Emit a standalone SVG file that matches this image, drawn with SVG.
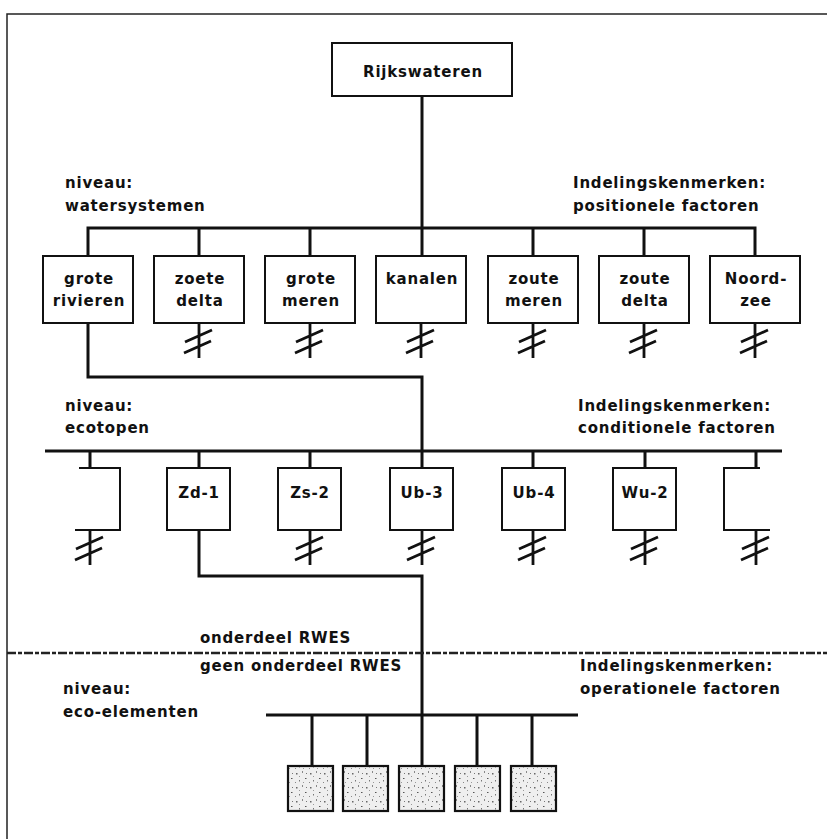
<svg xmlns="http://www.w3.org/2000/svg" xmlns:xlink="http://www.w3.org/1999/xlink" width="827" height="839" viewBox="0 0 827 839">
<style>
.t{font-family:"DejaVu Sans","Liberation Sans",sans-serif;font-weight:bold;font-size:15px;letter-spacing:0.8px;fill:#111}
.c{text-anchor:middle}
.box{fill:#fff;stroke:#111;stroke-width:2}
.ln{fill:none;stroke:#111;stroke-width:3}
.eco{fill:url(#stip);stroke:#111;stroke-width:2.2}
</style>
<defs>
<pattern id="stip" width="14" height="14" patternUnits="userSpaceOnUse">
<rect width="14" height="14" fill="#efefef"/>
<rect x="2" y="3" width="1.5" height="1.5" fill="#666"/>
<rect x="8" y="1" width="1" height="2" fill="#888"/>
<rect x="11" y="8" width="1.5" height="1" fill="#555"/>
<rect x="5" y="10" width="1" height="1.5" fill="#777"/>
<rect x="9" y="12" width="1" height="1" fill="#999"/>
<rect x="1" y="12" width="1" height="1" fill="#888"/>
<rect x="5" y="6" width="1" height="1" fill="#999"/>
<rect x="12" y="3" width="1" height="1" fill="#777"/>
</pattern>
<g id="brk">
<path d="M0,0 V35 M-14,19 L13,7 M-15,30 L12,18" fill="none" stroke="#111" stroke-width="2.8"/>
</g>
</defs>
<rect width="827" height="839" fill="#fff"/>
<path d="M7,839 V14 H827" fill="none" stroke="#222" stroke-width="1.5"/>

<g id="connectors">
<path class="ln" d="M422,97 V256"/>
<path class="ln" d="M88,256 V228 H755 V256"/>
<path class="ln" d="M199,228 V256 M310,228 V256 M533,228 V256 M644,228 V256"/>
<path class="ln" d="M88,323 V377 H422 V468"/>
<path class="ln" d="M45,451 H782"/>
<path class="ln" d="M90,451 V468 M199,451 V468 M310,451 V468 M533,451 V468 M645,451 V468 M756,451 V468"/>
<path class="ln" d="M199,530 V576 H422 V766"/>
<path d="M7,653 H827" fill="none" stroke="#222" stroke-width="2.5" stroke-dasharray="9 2 4 2"/>
<path class="ln" d="M266,715 H578"/>
<path class="ln" d="M312,715 V766 M367,715 V766 M477,715 V766 M532,715 V766"/>
<use xlink:href="#brk" x="199" y="323"/>
<use xlink:href="#brk" x="310" y="323"/>
<use xlink:href="#brk" x="421" y="323"/>
<use xlink:href="#brk" x="533" y="323"/>
<use xlink:href="#brk" x="644" y="323"/>
<use xlink:href="#brk" x="755" y="323"/>
<use xlink:href="#brk" x="90" y="530"/>
<use xlink:href="#brk" x="310" y="530"/>
<use xlink:href="#brk" x="422" y="530"/>
<use xlink:href="#brk" x="533" y="530"/>
<use xlink:href="#brk" x="645" y="530"/>
<use xlink:href="#brk" x="756" y="530"/>
</g>

<g id="rijkswateren"><rect class="box" x="332" y="43" width="180" height="53"/><text class="t c" x="423" y="77">Rijkswateren</text></g>

<g id="grote-rivieren"><rect class="box" x="43" y="256" width="90" height="67"/><text class="t c" x="89" y="284">grote</text><text class="t c" x="89" y="306">rivieren</text></g>
<g id="zoete-delta"><rect class="box" x="154" y="256" width="90" height="67"/><text class="t c" x="200" y="284">zoete</text><text class="t c" x="200" y="306">delta</text></g>
<g id="grote-meren"><rect class="box" x="265" y="256" width="90" height="67"/><text class="t c" x="311" y="284">grote</text><text class="t c" x="311" y="306">meren</text></g>
<g id="kanalen"><rect class="box" x="376" y="256" width="90" height="67"/><text class="t c" x="422" y="284">kanalen</text></g>
<g id="zoute-meren"><rect class="box" x="488" y="256" width="90" height="67"/><text class="t c" x="534" y="284">zoute</text><text class="t c" x="534" y="306">meren</text></g>
<g id="zoute-delta"><rect class="box" x="599" y="256" width="90" height="67"/><text class="t c" x="645" y="284">zoute</text><text class="t c" x="645" y="306">delta</text></g>
<g id="noordzee"><rect class="box" x="710" y="256" width="90" height="67"/><text class="t c" x="756" y="284">Noord-</text><text class="t c" x="756" y="306">zee</text></g>

<g id="eco-partial-left"><path d="M79,468 H120 V530 H75" fill="#fff" stroke="#111" stroke-width="2"/></g>
<g id="zd-1"><rect class="box" x="167" y="468" width="63" height="62"/><text class="t c" x="199" y="498">Zd-1</text></g>
<g id="zs-2"><rect class="box" x="278" y="468" width="63" height="62"/><text class="t c" x="310" y="498">Zs-2</text></g>
<g id="ub-3"><rect class="box" x="390" y="468" width="63" height="62"/><text class="t c" x="422" y="498">Ub-3</text></g>
<g id="ub-4"><rect class="box" x="502" y="468" width="63" height="62"/><text class="t c" x="534" y="498">Ub-4</text></g>
<g id="wu-2"><rect class="box" x="613" y="468" width="63" height="62"/><text class="t c" x="645" y="498">Wu-2</text></g>
<g id="eco-partial-right"><path d="M760,468 H724 V530 H770" fill="#fff" stroke="#111" stroke-width="2"/></g>

<g id="el-1"><rect class="eco" x="288" y="766" width="45" height="45"/></g>
<g id="el-2"><rect class="eco" x="343" y="766" width="45" height="45"/></g>
<g id="el-3"><rect class="eco" x="399" y="766" width="45" height="45"/></g>
<g id="el-4"><rect class="eco" x="455" y="766" width="45" height="45"/></g>
<g id="el-5"><rect class="eco" x="511" y="766" width="45" height="45"/></g>

<g id="labels">
<text class="t" x="65" y="188">niveau:</text>
<text class="t" x="65" y="211">watersystemen</text>
<text class="t" x="573" y="188">Indelingskenmerken:</text>
<text class="t" x="573" y="211">positionele factoren</text>
<text class="t" x="65" y="411">niveau:</text>
<text class="t" x="65" y="433">ecotopen</text>
<text class="t" x="578" y="411">Indelingskenmerken:</text>
<text class="t" x="578" y="433">conditionele factoren</text>
<text class="t" x="200" y="643">onderdeel RWES</text>
<text class="t" x="200" y="671">geen onderdeel RWES</text>
<text class="t" x="580" y="671">Indelingskenmerken:</text>
<text class="t" x="580" y="694">operationele factoren</text>
<text class="t" x="63" y="694">niveau:</text>
<text class="t" x="63" y="717">eco-elementen</text>
</g>
</svg>
